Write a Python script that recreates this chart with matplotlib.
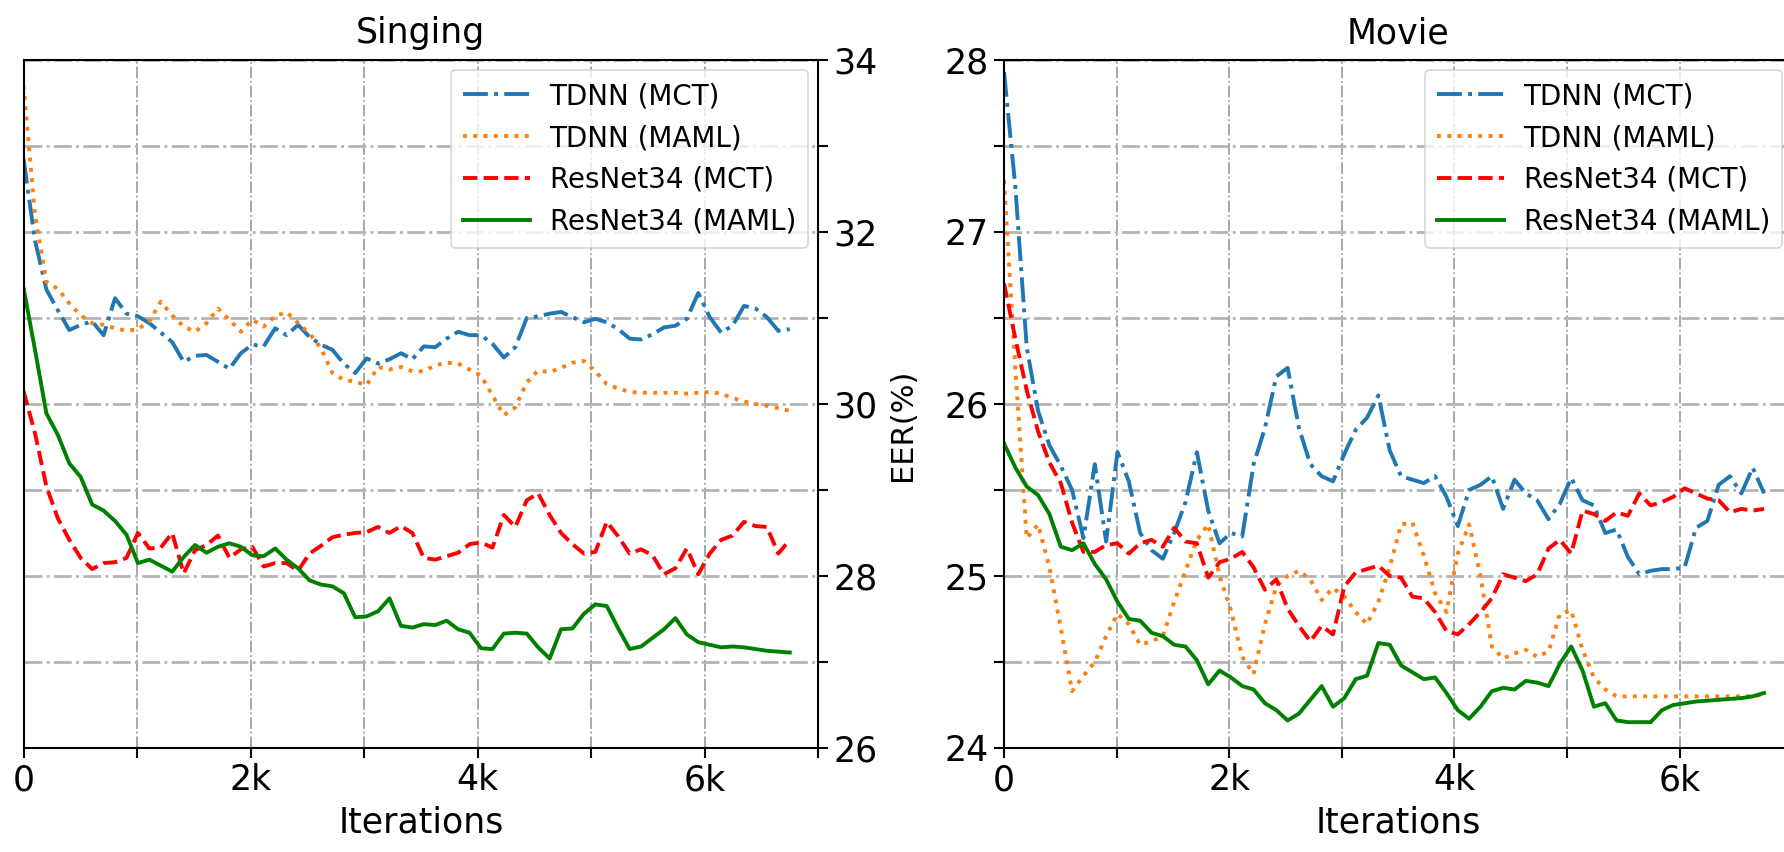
import matplotlib
matplotlib.use('Agg')
import matplotlib.pyplot as plt
import numpy as np

# iteration axis (68 evaluation points, last one at ~6.75k)
iters = np.linspace(0, 6750, 68)

# Singing
sing_tdnn_mct = [32.85, 31.9, 31.33, 31.09, 30.86, 30.92, 30.96, 30.80, 31.23, 31.05,
                 31.02, 30.94, 30.83, 30.72, 30.49, 30.56, 30.57, 30.49, 30.41, 30.59,
                 30.69, 30.67, 30.88, 30.80, 30.92, 30.78, 30.69, 30.63, 30.47, 30.36,
                 30.53, 30.47, 30.52, 30.59, 30.52, 30.67, 30.66, 30.76, 30.84, 30.80,
                 30.80, 30.70, 30.54, 30.66, 31.00, 31.02, 31.05, 31.07, 31.01, 30.95,
                 30.99, 30.95, 30.87, 30.76, 30.75, 30.81, 30.89, 30.91, 30.99, 31.29,
                 31.01, 30.83, 30.91, 31.14, 31.11, 31.01, 30.85, 30.87]
sing_tdnn_maml = [33.7, 32.2, 31.42, 31.34, 31.17, 31.03, 30.94, 30.92, 30.88, 30.85,
                  30.87, 30.96, 31.19, 31.03, 30.90, 30.84, 30.94, 31.11, 30.98, 30.84,
                  30.98, 30.90, 31.02, 31.07, 30.94, 30.82, 30.65, 30.36, 30.28, 30.26,
                  30.22, 30.43, 30.40, 30.43, 30.38, 30.38, 30.45, 30.48, 30.47, 30.40,
                  30.33, 30.10, 29.87, 29.96, 30.25, 30.39, 30.37, 30.42, 30.48, 30.50,
                  30.38, 30.23, 30.18, 30.14, 30.13, 30.13, 30.13, 30.13, 30.12, 30.13,
                  30.14, 30.12, 30.07, 30.03, 30.00, 29.98, 29.95, 29.92]
sing_res_mct = [30.15, 29.66, 29.04, 28.67, 28.42, 28.21, 28.08, 28.15, 28.16, 28.21,
                28.50, 28.32, 28.33, 28.50, 28.03, 28.30, 28.36, 28.47, 28.21, 28.31,
                28.34, 28.11, 28.15, 28.15, 28.06, 28.26, 28.35, 28.45, 28.48, 28.50,
                28.51, 28.57, 28.50, 28.58, 28.50, 28.21, 28.19, 28.23, 28.27, 28.37,
                28.39, 28.33, 28.71, 28.57, 28.88, 28.96, 28.71, 28.50, 28.37, 28.26,
                28.28, 28.63, 28.46, 28.26, 28.31, 28.24, 28.02, 28.09, 28.32, 28.02,
                28.26, 28.42, 28.47, 28.63, 28.58, 28.57, 28.26, 28.42]
sing_res_maml = [31.35, 30.63, 29.89, 29.64, 29.31, 29.15, 28.83, 28.76, 28.64, 28.48,
                 28.15, 28.19, 28.12, 28.05, 28.22, 28.36, 28.27, 28.34, 28.38, 28.34,
                 28.24, 28.23, 28.32, 28.19, 28.09, 27.95, 27.90, 27.88, 27.80, 27.52,
                 27.53, 27.59, 27.74, 27.42, 27.40, 27.44, 27.43, 27.48, 27.38, 27.34,
                 27.16, 27.15, 27.33, 27.34, 27.33, 27.17, 27.04, 27.38, 27.39, 27.56,
                 27.67, 27.65, 27.39, 27.15, 27.18, 27.28, 27.38, 27.51, 27.32, 27.23,
                 27.20, 27.17, 27.18, 27.17, 27.15, 27.13, 27.12, 27.11]

# Movie
movie_tdnn_mct = [27.93, 27.26, 26.33, 25.96, 25.76, 25.64, 25.50, 25.22, 25.65, 25.20,
                  25.72, 25.55, 25.25, 25.15, 25.10, 25.25, 25.43, 25.72, 25.38, 25.19,
                  25.25, 25.23, 25.65, 25.86, 26.16, 26.21, 25.86, 25.65, 25.58, 25.55,
                  25.71, 25.85, 25.92, 26.05, 25.73, 25.58, 25.56, 25.54, 25.58, 25.46,
                  25.29, 25.50, 25.53, 25.58, 25.39, 25.56, 25.48, 25.44, 25.33, 25.42,
                  25.57, 25.44, 25.41, 25.25, 25.27, 25.11, 25.01, 25.03, 25.04, 25.04,
                  25.05, 25.28, 25.32, 25.53, 25.58, 25.48, 25.63, 25.48]
movie_tdnn_maml = [27.3, 26.2, 25.22, 25.3, 25.05, 24.7, 24.33, 24.42, 24.5, 24.65,
                   24.78, 24.72, 24.6, 24.62, 24.65, 24.85, 25.03, 25.21, 25.3, 25.0,
                   24.8, 24.53, 24.43, 24.72, 24.94, 25.0, 25.03, 24.98, 24.86, 24.93,
                   24.88, 24.79, 24.72, 24.85, 25.05, 25.3, 25.31, 25.12, 24.9, 24.79,
                   25.13, 25.3, 25.0, 24.59, 24.52, 24.55, 24.57, 24.53, 24.56, 24.78,
                   24.80, 24.57, 24.41, 24.34, 24.30, 24.30, 24.30, 24.30, 24.30, 24.30,
                   24.30, 24.30, 24.30, 24.30, 24.30, 24.30, 24.30, 24.31]
movie_res_mct = [26.7, 26.38, 26.08, 25.84, 25.66, 25.54, 25.31, 25.14, 25.14, 25.18,
                 25.19, 25.13, 25.19, 25.21, 25.17, 25.28, 25.20, 25.19, 24.99, 25.08,
                 25.10, 25.14, 25.05, 24.92, 24.98, 24.81, 24.71, 24.62, 24.71, 24.66,
                 24.94, 25.02, 25.04, 25.06, 25.00, 24.99, 24.88, 24.87, 24.79, 24.68,
                 24.66, 24.72, 24.79, 24.87, 25.01, 24.99, 24.97, 25.01, 25.16, 25.21,
                 25.13, 25.38, 25.36, 25.32, 25.37, 25.35, 25.48, 25.41, 25.43, 25.46,
                 25.51, 25.48, 25.45, 25.44, 25.37, 25.39, 25.38, 25.39]
movie_res_maml = [25.77, 25.63, 25.52, 25.47, 25.36, 25.17, 25.15, 25.19, 25.07, 24.98,
                  24.85, 24.75, 24.74, 24.67, 24.65, 24.60, 24.59, 24.51, 24.37, 24.45,
                  24.41, 24.36, 24.34, 24.26, 24.22, 24.16, 24.20, 24.28, 24.36, 24.24,
                  24.29, 24.40, 24.42, 24.61, 24.60, 24.48, 24.44, 24.40, 24.41, 24.32,
                  24.22, 24.17, 24.24, 24.33, 24.35, 24.34, 24.39, 24.38, 24.36, 24.49,
                  24.59, 24.45, 24.24, 24.26, 24.16, 24.15, 24.15, 24.15, 24.22, 24.25,
                  24.26, 24.27, 24.275, 24.28, 24.285, 24.29, 24.30, 24.32]

labels = ['TDNN (MCT)', 'TDNN (MAML)', 'ResNet34 (MCT)', 'ResNet34 (MAML)']
colors = ['#1f77b4', '#ff7f0e', 'red', 'green']
styles = ['-.', ':', '--', '-']

xtick_major = [0, 2000, 4000, 6000]
xtick_labels = ['0', '2k', '4k', '6k']
xtick_minor = [1000, 3000, 5000, 7000]

FS = 25

fig = plt.figure(figsize=(17.84, 8.52), dpi=100)
ax1 = fig.add_axes([0.0132, 0.1221, 0.4454, 0.8075])
ax2 = fig.add_axes([0.5628, 0.1221, 0.4418, 0.8075])


def draw(ax, series, title):
    for ys, lab, c, ls in zip(series, labels, colors, styles):
        ax.plot(iters, ys, linestyle=ls, color=c, linewidth=2.8, label=lab)
    ax.set_xlim(0, 7000)
    ax.set_xticks(xtick_major)
    ax.set_xticklabels(xtick_labels)
    ax.set_xticks(xtick_minor, minor=True)
    ax.grid(which='both', axis='x', color='#a0a0a0', linestyle='-.', linewidth=1.3)
    ax.grid(which='both', axis='y', color='#b4b4b4', linestyle='-.', linewidth=2.0)
    ax.set_axisbelow(True)
    ax.tick_params(which='both', direction='out', length=7, width=1.5,
                   labelsize=FS, pad=4)
    for sp in ax.spines.values():
        sp.set_linewidth(1.5)
    ax.set_title(title, fontsize=FS, pad=12)
    ax.set_xlabel('Iterations', fontsize=FS, labelpad=6)
    leg = ax.legend(loc='upper right', fontsize=20, handlelength=2.4,
                    handletextpad=0.7, labelspacing=0.5, borderpad=0.45,
                    borderaxespad=0.35, framealpha=0.8)
    leg.get_frame().set_linewidth(1.2)


draw(ax1, [sing_tdnn_mct, sing_tdnn_maml, sing_res_mct, sing_res_maml], 'Singing')
ax1.set_ylim(26, 34)
ax1.set_yticks([26, 28, 30, 32, 34])
ax1.set_yticks([27, 29, 31, 33], minor=True)
ax1.yaxis.tick_right()

draw(ax2, [movie_tdnn_mct, movie_tdnn_maml, movie_res_mct, movie_res_maml], 'Movie')
ax2.set_ylim(24, 28)
ax2.set_yticks([24, 25, 26, 27, 28])
ax2.set_yticks([24.5, 25.5, 26.5, 27.5], minor=True)
ax2.set_ylabel('EER(%)', fontsize=22)
ax2.yaxis.set_label_coords(-0.11, 0.47)

fig.savefig('out.png', dpi=100)
